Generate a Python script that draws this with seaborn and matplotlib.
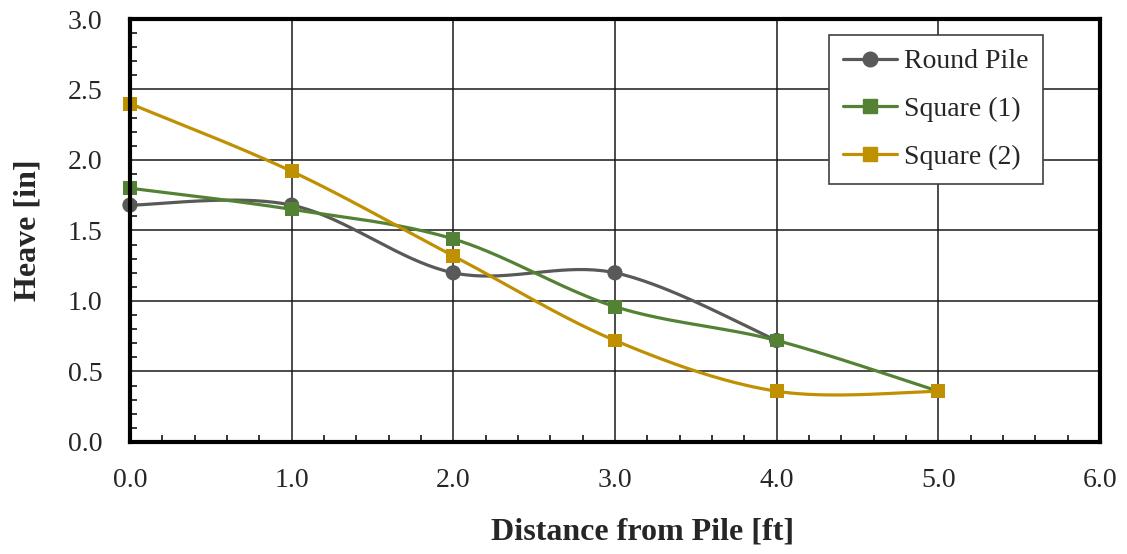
import numpy as np
import pandas as pd
import seaborn as sns
import matplotlib.pyplot as plt
from matplotlib.lines import Line2D
from matplotlib.ticker import MultipleLocator

# data
dist_round = [0.0, 1.0, 2.0, 3.0, 4.0]
heave_round = [1.68, 1.68, 1.20, 1.20, 0.72]
dist_sq1 = [0.0, 1.0, 2.0, 3.0, 4.0, 5.0]
heave_sq1 = [1.80, 1.65, 1.44, 0.96, 0.72, 0.36]
dist_sq2 = [0.0, 1.0, 2.0, 3.0, 4.0, 5.0]
heave_sq2 = [2.40, 1.92, 1.32, 0.72, 0.36, 0.36]

series = ["Round Pile", "Square (1)", "Square (2)"]
colors = {"Round Pile": "#595959", "Square (1)": "#548235", "Square (2)": "#BF9000"}
markers = {"Round Pile": "o", "Square (1)": "s", "Square (2)": "s"}


def smooth(xs, ys, n=40):
    # excel-like bezier smoothing
    p = np.column_stack([xs, ys]).astype(float)
    pts = []
    for i in range(len(p) - 1):
        p0 = p[i - 1] if i > 0 else p[i]
        p1, p2 = p[i], p[i + 1]
        p3 = p[i + 2] if i + 2 < len(p) else p[i + 1]
        c1 = p1 + (p2 - p0) / 6
        c2 = p2 - (p3 - p1) / 6
        t = np.linspace(0, 1, n)[:, None]
        seg = (1 - t) ** 3 * p1 + 3 * (1 - t) ** 2 * t * c1 + 3 * (1 - t) * t ** 2 * c2 + t ** 3 * p2
        pts.append(seg if i == 0 else seg[1:])
    return np.vstack(pts)


raw = pd.concat([
    pd.DataFrame({"x": dist_round, "y": heave_round, "s": "Round Pile"}),
    pd.DataFrame({"x": dist_sq1, "y": heave_sq1, "s": "Square (1)"}),
    pd.DataFrame({"x": dist_sq2, "y": heave_sq2, "s": "Square (2)"}),
])
curves = []
for name, g in raw.groupby("s", sort=False):
    c = smooth(g["x"].values, g["y"].values)
    curves.append(pd.DataFrame({"x": c[:, 0], "y": c[:, 1], "s": name}))
curves = pd.concat(curves)

sns.set_style("white")
plt.rcParams["font.family"] = ["Liberation Serif", "DejaVu Serif"]

fig = plt.figure(figsize=(11.27, 5.54), dpi=100)
ax = fig.add_axes([0.1153, 0.2022, 0.8607, 0.7635])

sns.lineplot(data=curves, x="x", y="y", hue="s", palette=colors, sort=False,
             estimator=None, linewidth=2.3, legend=False, ax=ax)
for name in series:
    g = raw[raw["s"] == name]
    sns.scatterplot(x=g["x"], y=g["y"], color=colors[name], marker=markers[name],
                    s=120 if markers[name] == "o" else 100, edgecolor="none", legend=False,
                    ax=ax, zorder=3, clip_on=False)

ax.set_xlim(0, 6)
ax.set_ylim(0, 3)
ax.xaxis.set_major_locator(MultipleLocator(1))
ax.yaxis.set_major_locator(MultipleLocator(0.5))
ax.xaxis.set_minor_locator(MultipleLocator(0.2))
ax.yaxis.set_minor_locator(MultipleLocator(0.1))
ax.xaxis.set_major_formatter(lambda v, p: f"{v:.1f}")
ax.yaxis.set_major_formatter(lambda v, p: f"{v:.1f}")
ax.grid(True, which="major", color="#1a1a1a", linewidth=1.1)
ax.tick_params(which="both", direction="in", labelsize=20, color="black",
               bottom=True, left=True)
ax.tick_params(which="major", length=0, pad=19)
ax.tick_params(axis="y", which="major", pad=20)
ax.tick_params(which="minor", length=5, width=1.1)
for sp in ax.spines.values():
    sp.set_linewidth(3)
    sp.set_color("black")
    sp.set_zorder(4)

ax.set_xlabel("Distance from Pile [ft]", fontsize=23, fontweight="bold")
ax.set_ylabel("Heave [in]", fontsize=23, fontweight="bold")
ax.xaxis.set_label_coords(0.528, -0.213)
ax.yaxis.set_label_coords(-0.105, 0.501)
ax.xaxis.label.set_verticalalignment("center")
ax.yaxis.label.set_verticalalignment("center")

handles = [Line2D([0], [0], color=colors[n], marker=markers[n], markersize=10.5 if markers[n] == "o" else 9.5,
                  linewidth=2.3) for n in series]
leg = ax.legend(handles, series, loc="upper right", bbox_to_anchor=(0.941, 0.962), fontsize=20,
                frameon=True, fancybox=False, edgecolor="#404040", framealpha=1,
                handlelength=1.95, handletextpad=0.25, labelspacing=0.8, borderpad=0.5,
                borderaxespad=0)
leg.get_frame().set_linewidth(1.2)

fig.savefig("out.png", dpi=100)
